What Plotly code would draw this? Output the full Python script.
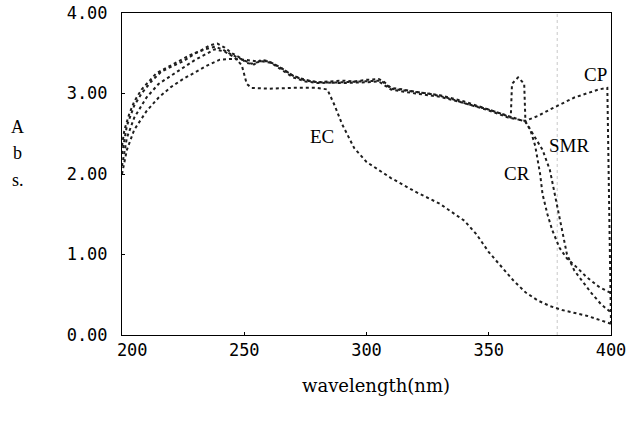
import plotly.graph_objects as go

# ---------------- data ----------------
ec_x = [200, 202, 205, 210, 215, 220, 225, 230, 235, 238, 242, 246, 249, 251, 253, 260, 270, 280, 284, 287, 290, 295, 300, 305, 310, 320, 330, 340, 345, 350, 355, 360, 365, 370, 375, 380, 390, 400]
ec_y = [2.10, 2.45, 2.70, 2.95, 3.12, 3.22, 3.33, 3.42, 3.50, 3.55, 3.52, 3.45, 3.35, 3.12, 3.07, 3.06, 3.07, 3.07, 3.05, 2.85, 2.62, 2.32, 2.15, 2.05, 1.95, 1.78, 1.63, 1.42, 1.25, 1.03, 0.85, 0.68, 0.53, 0.43, 0.36, 0.31, 0.24, 0.14]

cr_x = [200, 201, 203, 205, 208, 211, 214, 217, 220, 224, 228, 232, 236, 239, 242, 245, 248, 251, 254, 257, 260, 263, 266, 270, 275, 280, 285, 290, 295, 300, 305, 307, 310, 315, 320, 325, 330, 335, 340, 345, 350, 355, 359, 359.5, 362, 364.5, 365, 367, 369, 371, 372, 374, 376, 379, 382, 386, 390, 395, 400]
cr_y = [2.35, 2.55, 2.75, 2.90, 3.05, 3.15, 3.25, 3.30, 3.35, 3.42, 3.48, 3.53, 3.60, 3.62, 3.57, 3.50, 3.45, 3.38, 3.36, 3.42, 3.40, 3.35, 3.30, 3.22, 3.17, 3.14, 3.15, 3.16, 3.15, 3.17, 3.18, 3.15, 3.07, 3.05, 3.02, 3.00, 2.97, 2.93, 2.88, 2.84, 2.80, 2.75, 2.70, 3.12, 3.20, 3.12, 2.65, 2.55, 2.35, 2.00, 1.75, 1.50, 1.30, 1.08, 0.95, 0.84, 0.72, 0.60, 0.52]

smr_x = [200, 202, 205, 208, 212, 216, 220, 225, 230, 234, 238, 241, 245, 249, 253, 257, 261, 265, 270, 275, 280, 290, 300, 306, 310, 320, 330, 340, 350, 358, 365, 368, 372, 375, 377, 379, 382, 385, 388, 392, 396, 400]
smr_y = [2.25, 2.60, 2.85, 3.00, 3.15, 3.27, 3.33, 3.40, 3.50, 3.55, 3.58, 3.55, 3.48, 3.42, 3.37, 3.40, 3.38, 3.30, 3.20, 3.15, 3.13, 3.14, 3.15, 3.16, 3.06, 3.02, 2.98, 2.90, 2.80, 2.72, 2.65, 2.50, 2.30, 2.05, 1.75, 1.45, 1.00, 0.80, 0.68, 0.52, 0.38, 0.28]

cp_x = [200, 202, 205, 210, 215, 220, 225, 230, 235, 240, 245, 250, 255, 260, 265, 270, 275, 280, 290, 300, 305, 310, 320, 330, 340, 350, 358, 365, 370, 375, 380, 385, 390, 395, 398.5, 399.2, 400]
cp_y = [2.00, 2.30, 2.55, 2.78, 2.95, 3.08, 3.18, 3.27, 3.35, 3.42, 3.43, 3.42, 3.40, 3.40, 3.32, 3.22, 3.16, 3.14, 3.13, 3.14, 3.15, 3.05, 3.00, 2.96, 2.88, 2.79, 2.70, 2.66, 2.72, 2.80, 2.88, 2.95, 3.00, 3.05, 3.07, 1.50, 0.12]

series_names = ["EC", "CR", "SMR", "CP"]
series_x = [ec_x, cr_x, smr_x, cp_x]
series_y = [ec_y, cr_y, smr_y, cp_y]

# in-plot labels (name, x, y)
label_names = ["EC", "CR", "SMR", "CP"]
label_x = [282, 361.5, 383, 393.5]
label_y = [2.46, 2.01, 2.36, 3.23]

x_tickvals = [200, 250, 300, 350, 400]
x_ticktext = ["\u00a0\u00a0200", "250", "300", "350", "400"]
y_tickvals = [0, 1, 2, 3, 4]
y_ticktext = ["0.00", "1.00", "2.00", "3.00", "4.00"]

ref_line_x = 378
abs_letters = ["A", "b", "s."]
abs_letter_y = [0.645, 0.565, 0.48]

x_title = "wavelength(nm)"

# ---------------- figure ----------------
fig = go.Figure()
for name, xs, ys in zip(series_names, series_x, series_y):
    fig.add_trace(go.Scatter(x=xs, y=ys, mode="lines", name=name,
                             line=dict(color="#1e1e1e", width=2, dash="dot"),
                             showlegend=False))

for t, lx, ly in zip(label_names, label_x, label_y):
    fig.add_annotation(x=lx, y=ly, xref="x", yref="y", text=t, showarrow=False,
                       font=dict(family="Liberation Serif", size=19, color="black"))

for t, ly in zip(abs_letters, abs_letter_y):
    fig.add_annotation(x=-0.213, y=ly, xref="paper", yref="paper", text=t, showarrow=False,
                       xanchor="center", yanchor="middle",
                       font=dict(family="Liberation Serif", size=18, color="black"))

fig.add_annotation(x=0.52, y=-0.158, xref="paper", yref="paper", text=x_title, showarrow=False,
                   xanchor="center", yanchor="middle",
                   font=dict(family="DejaVu Serif", size=18, color="black"))

fig.add_shape(type="line", x0=ref_line_x, x1=ref_line_x, y0=0, y1=4, xref="x", yref="y",
              line=dict(color="#c8c8c8", width=1, dash="dot"), layer="below")

fig.update_xaxes(range=[200, 400], tickvals=x_tickvals, ticktext=x_ticktext, automargin=False,
                 showgrid=False, zeroline=False, showline=True, linecolor="black", linewidth=1,
                 mirror=True, ticks="inside", ticklen=3, tickcolor="black",
                 tickfont=dict(family="DejaVu Sans Mono", size=17, color="black"))
fig.update_yaxes(range=[0, 4], tickvals=y_tickvals, ticktext=y_ticktext, automargin=False,
                 showgrid=False, zeroline=False, showline=True, linecolor="black", linewidth=1,
                 mirror=True, ticks="inside", ticklen=3, tickcolor="black",
                 ticklabelstandoff=10,
                 tickfont=dict(family="DejaVu Sans Mono", size=17, color="black"))

fig.update_layout(width=630, height=423, margin=dict(l=122, r=19, t=13, b=88),
                  plot_bgcolor="white", paper_bgcolor="white")

fig.write_html("out.html", config={"displayModeBar": False},
               post_script="document.body.style.margin='0';")
